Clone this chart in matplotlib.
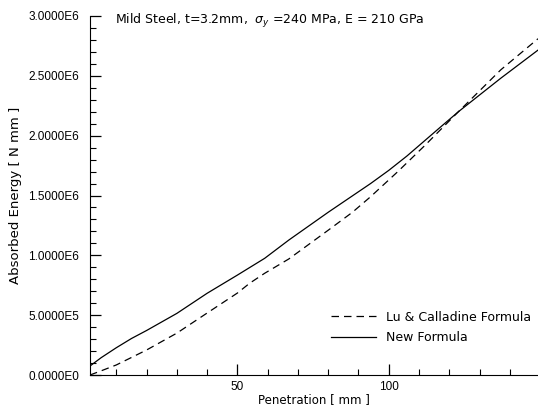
import matplotlib
matplotlib.use("Agg")
import matplotlib.pyplot as plt
from matplotlib.ticker import MultipleLocator, FixedLocator

plt.rcParams['font.family'] = ['Liberation Sans', 'DejaVu Sans']

# penetration [mm] and absorbed energy [N mm]
pen_lu = [1.3, 5, 10, 20, 30, 40, 50, 54, 59, 67, 80, 88, 94, 103, 112, 123, 137, 149.3]
energy_lu = [0.0, 0.035e6, 0.084e6, 0.209e6, 0.35e6, 0.518e6, 0.685e6, 0.766e6, 0.85e6,
             0.97e6, 1.21e6, 1.36e6, 1.49e6, 1.70e6, 1.92e6, 2.20e6, 2.55e6, 2.81e6]

pen_new = [1.3, 5, 10, 15, 20, 30, 40, 50, 59, 67, 80, 94, 100, 106, 117, 123, 128, 137, 149.3]
energy_new = [0.075e6, 0.145e6, 0.228e6, 0.305e6, 0.372e6, 0.515e6, 0.683e6, 0.835e6, 0.975e6,
              1.128e6, 1.36e6, 1.60e6, 1.71e6, 1.83e6, 2.07e6, 2.20e6, 2.30e6, 2.48e6, 2.715e6]

y_ticks = [0, 0.5e6, 1.0e6, 1.5e6, 2.0e6, 2.5e6, 3.0e6]
y_labels = ['0.0000E0', '5.0000E5', '1.0000E6', '1.5000E6', '2.0000E6', '2.5000E6', '3.0000E6']

fig = plt.figure(figsize=(5.38, 4.09), dpi=100)
ax = fig.add_axes([90 / 538, 34 / 409, 448 / 538, 359 / 409])

ax.plot(pen_lu, energy_lu, color='black', lw=0.9, dashes=(6, 4), label='Lu & Calladine Formula')
ax.plot(pen_new, energy_new, color='black', lw=0.9, label='New Formula')

ax.set_xlim(1.3, 149.3)
ax.set_ylim(0, 3.0e6)

ax.spines['top'].set_visible(False)
ax.spines['right'].set_visible(False)

ax.xaxis.set_major_locator(FixedLocator([50, 100]))
ax.xaxis.set_minor_locator(MultipleLocator(10))
ax.set_yticks(y_ticks)
ax.set_yticklabels(y_labels)
ax.yaxis.set_minor_locator(MultipleLocator(1e5))
ax.tick_params(which='major', direction='in', length=8, width=0.9, labelsize=8.5, pad=4)
ax.tick_params(which='minor', direction='in', length=4, width=0.8)
ax.tick_params(axis='y', pad=8)

wide = ['DejaVu Sans']
ax.set_xlabel('Penetration [ mm ]', fontsize=8.5, family=wide, labelpad=0)
ax.set_ylabel('Absorbed Energy [ N mm ]', fontsize=9.5, family=wide, labelpad=4)

ax.text(0.055, 0.985, r'Mild Steel, t=3.2mm,  $\sigma_y$ =240 MPa, E = 210 GPa',
        transform=ax.transAxes, fontsize=9, family=wide, va='center', ha='left')

ax.legend(loc='lower right', bbox_to_anchor=(1.01, 0.055), frameon=False,
          prop={'family': 'DejaVu Sans', 'size': 9}, handlelength=3.6, labelspacing=0.6)

fig.savefig('out.png', dpi=100)
